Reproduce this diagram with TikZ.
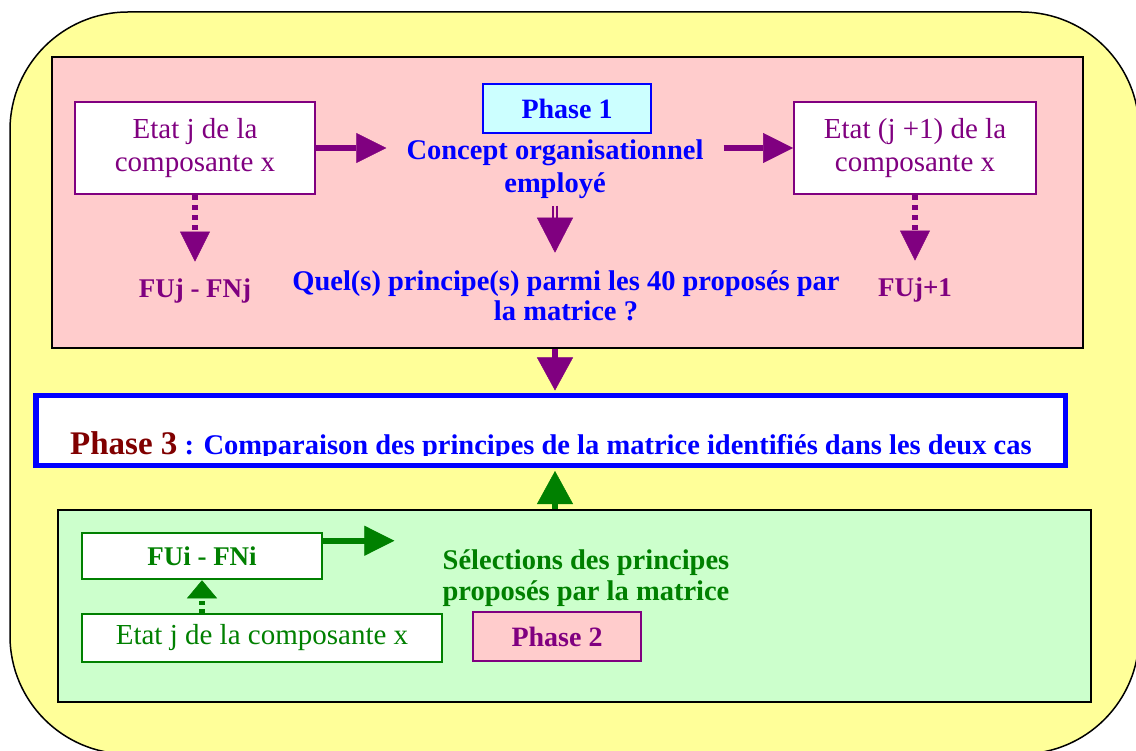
\documentclass[tikz,border=0pt]{standalone}
\usepackage{fontspec}
\setmainfont{Liberation Serif}
\usetikzlibrary{arrows.meta,calc}
\definecolor{yellowbg}{HTML}{FFFF99}
\definecolor{pinkbg}{HTML}{FFCCCC}
\definecolor{greenbg}{HTML}{CCFFCC}
\definecolor{cyanbg}{HTML}{CCFFFF}
\definecolor{purp}{HTML}{800080}
\definecolor{grn}{HTML}{008000}
\definecolor{blu}{HTML}{0000FF}
\definecolor{dred}{HTML}{800000}
\newcommand{\regf}{\fontsize{29}{33}\selectfont}
\newcommand{\bldf}{\fontsize{28.5}{33}\selectfont\bfseries}
\newcommand{\lblf}{\fontsize{27}{31}\selectfont\bfseries}
\begin{document}
\begin{tikzpicture}[x=1pt,y=-1pt,
  panel/.style={draw=black, line width=1.5pt, inner sep=0pt},
  ebox/.style={draw=purp, line width=2pt, fill=white, text=purp, align=center, inner sep=0pt, font=\regf},
  gbox/.style={draw=grn, line width=2.5pt, fill=white, text=grn, inner sep=0pt},
  phbox/.style={line width=1.5pt, inner sep=0pt, font=\fontsize{28}{32}\selectfont\bfseries},
  btext/.style={inner sep=0pt, align=center, font=\bldf},
  lbl/.style={inner sep=0pt, font=\lblf},
  parrow/.style={draw=purp, line width=6pt, -{Triangle[length=30pt,width=30pt,line width=0.5pt]}},
  parrowb/.style={draw=purp, line width=6pt, -{Triangle[length=33pt,width=36pt,line width=0.5pt]}},
  pdot/.style={draw=purp, line width=5.5pt, dash pattern=on 5pt off 5pt, -{Triangle[length=30pt,width=30pt,line width=0.5pt]}},
  phead/.style={draw=purp, line width=0.5pt, -{Triangle[length=35pt,width=36pt,line width=0.5pt]}},
  dblshaft/.style={draw=purp, line width=1.8pt, double=pinkbg, double distance=2.4pt},
  garrow/.style={draw=grn, line width=6pt, -{Triangle[length=30pt,width=30pt,line width=0.5pt]}},
  garrowb/.style={draw=grn, line width=6pt, -{Triangle[length=33pt,width=36pt,line width=0.5pt]}},
  gdot/.style={draw=grn, line width=5.5pt, dash pattern=on 4pt off 4pt, -{Triangle[length=18pt,width=30pt,line width=0.5pt]}}
]
\useasboundingbox (0,0) rectangle (1136,751);
\begin{scope}
  \clip (0,0) rectangle (1136,751);
  \draw[fill=yellowbg, line width=1.5pt, rounded corners=118pt] (10,12) rectangle (1139,754);
\end{scope}

% Phase 1 panel
\node[panel, fill=pinkbg, minimum width=1031pt, minimum height=291pt] (pinkpanel) at (567.5,202.5) {};
\node[ebox, minimum width=240pt, minimum height=92pt] (etatj) at (195,148) {Etat j de la\\composante x};
\node[ebox, minimum width=242pt, minimum height=92pt] (etatj1) at (915,148) {Etat (j +1) de la\\composante x};
\node[phbox, draw=blu, fill=cyanbg, text=blu, minimum width=168pt, minimum height=49pt] (phase1) at (567,108.5) {Phase 1};
\node[btext, text=blu] (concept) at (555,169) {Concept organisationnel\\employé};
\node[lbl, text=purp] (fuj) at (195,291) {FUj - FNj};
\node[lbl, text=purp] (fuj1) at (915,290) {FUj+1};
\node[btext, text=blu, font=\fontsize{28.5}{30}\selectfont\bfseries] (quest) at (566,296) {Quel(s) principe(s) parmi les 40 proposés par\\la matrice ?};

\draw[parrow, shorten >=20pt] (etatj.east) -- (etatj.east -| concept.west);
\draw[parrow, shorten <=20pt] (concept.east |- etatj1.west) -- (etatj1.west);
\draw[pdot, shorten >=17pt] (etatj.south) -- (fuj.north);
\draw[pdot, shorten >=17pt] (etatj1.south) -- (fuj1.north);
\draw[dblshaft, shorten <=7pt, shorten >=53pt] (concept.south) -- (concept.south |- quest.north);
\draw[phead, shorten <=19pt, shorten >=18pt] (concept.south) -- (concept.south |- quest.north);

% Phase 3
\node[draw=blu, line width=5.5pt, fill=white, minimum width=1029.5pt, minimum height=69.5pt, inner sep=0pt] (phase3) at (550.5,430.5) {};
\begin{scope}
  \clip (36,398) rectangle (1066,455);
  \node[anchor=base west, inner sep=0pt] (phase3txt) at (70,454) {{\color{dred}\fontsize{33}{36}\selectfont\bfseries Phase 3}{\color{blu}\bldf\ : Comparaison des principes de la matrice identifiés dans les deux cas}};
\end{scope}

% Phase 2 panel
\node[panel, line width=2pt, fill=greenbg, minimum width=1033pt, minimum height=192pt] (greenpanel) at (574.5,606) {};
\node[gbox, font=\lblf, minimum width=240pt, minimum height=46pt] (fui) at (202,556) {FUi - FNi};
\node[gbox, font=\regf, minimum width=360pt, minimum height=48pt] (etatjg) at (262,638) {Etat j de la composante x};
\node[phbox, draw=purp, fill=pinkbg, text=purp, minimum width=168pt, minimum height=49pt] (phase2) at (557,636.5) {Phase 2};
\node[btext, text=grn, font=\fontsize{28.5}{31}\selectfont\bfseries] (sel) at (586,578) {Sélections des principes\\proposés par la matrice};

\coordinate (fuiout) at ($(fui.north east)+(0,9)$);
\draw[garrow, shorten >=48pt] (fuiout) -- (fuiout -| sel.west);
\draw[gdot] (etatjg.north -| fui.south) -- (fui.south);

% connections to phase 3
\draw[parrowb, shorten >=2.5pt] (concept.south |- pinkpanel.south) -- (concept.south |- phase3.north);
\draw[garrowb, shorten >=3pt] (concept.south |- greenpanel.north) -- (concept.south |- phase3.south);
\end{tikzpicture}
\end{document}
